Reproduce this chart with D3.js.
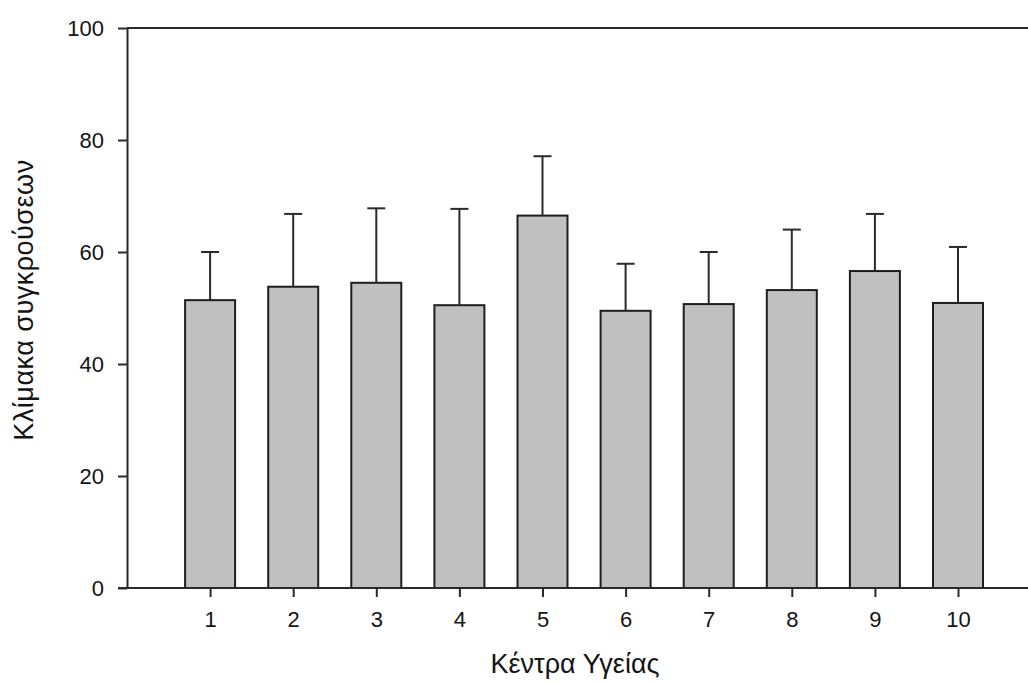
<!DOCTYPE html>
<html>
<head>
<meta charset="utf-8">
<script src="https://cdn.jsdelivr.net/npm/d3@7"></script>
<style>
  body { margin: 0; background: #fff; }
  svg { display: block; font-family: "Liberation Sans", Arial, sans-serif; }
</style>
</head>
<body>
<script>
// Data
const centres = [1, 2, 3, 4, 5, 6, 7, 8, 9, 10];
const means = [51.4, 53.8, 54.5, 50.5, 66.5, 49.5, 50.7, 53.2, 56.6, 50.9];
const errors = [8.6, 13.0, 13.3, 17.2, 10.6, 8.4, 9.3, 10.8, 10.2, 10.0];
const yTicks = [0, 20, 40, 60, 80, 100];

const W = 1028, H = 682;
const X0 = 127, Y0 = 588, Y1 = 28;
const STEP = 83.1;
const BAR_W = 50;
const CAP_W = 18;
const TEXT = "#141414";
const LINE = "#2a2a2a";

const svg = d3.select("body").append("svg")
    .attr("width", W)
    .attr("height", H);

const x = d3.scaleLinear().domain([0, 11]).range([X0, X0 + 11 * STEP]);
const y = d3.scaleLinear().domain([0, 100]).range([Y0, Y1]);

// ----- Bars -----
const bars = svg.append("g");
bars.selectAll("rect")
    .data(centres)
    .enter()
    .append("rect")
        .attr("x", d => x(d) - BAR_W / 2)
        .attr("y", (d, i) => y(means[i]))
        .attr("width", BAR_W)
        .attr("height", (d, i) => y(0) - y(means[i]))
        .attr("fill", "#c0c0c0")
        .attr("stroke", "#1e1e1e")
        .attr("stroke-width", 2);

// ----- Error bars (upper only) -----
const err = svg.append("g")
    .attr("stroke", LINE)
    .attr("stroke-width", 2);
err.selectAll("line.stem")
    .data(centres)
    .enter()
    .append("line")
        .attr("class", "stem")
        .attr("x1", d => x(d))
        .attr("x2", d => x(d))
        .attr("y1", (d, i) => y(means[i]))
        .attr("y2", (d, i) => y(means[i] + errors[i]));
err.selectAll("line.cap")
    .data(centres)
    .enter()
    .append("line")
        .attr("class", "cap")
        .attr("x1", d => x(d) - CAP_W / 2)
        .attr("x2", d => x(d) + CAP_W / 2)
        .attr("y1", (d, i) => y(means[i] + errors[i]))
        .attr("y2", (d, i) => y(means[i] + errors[i]));

// ----- Axes -----
const yAxis = svg.append("g")
    .attr("transform", `translate(${X0},0)`)
    .call(d3.axisLeft(y).tickValues(yTicks).tickSize(9).tickPadding(14).tickSizeOuter(0));

const xAxis = svg.append("g")
    .attr("transform", `translate(0,${Y0})`)
    .call(d3.axisBottom(x).tickValues(centres).tickSize(9).tickPadding(14).tickSizeOuter(0));

[xAxis, yAxis].forEach(a => {
    a.select(".domain").attr("stroke", LINE).attr("stroke-width", 2);
    a.selectAll(".tick line").attr("stroke", LINE).attr("stroke-width", 2);
    a.selectAll(".tick text")
        .attr("fill", TEXT)
        .style("font-size", "22px");
});
xAxis.select(".domain").attr("d", `M${X0 - 9},0H${x(11)}`);

// top frame line
svg.append("line")
    .attr("x1", X0)
    .attr("x2", x(11))
    .attr("y1", y(100))
    .attr("y2", y(100))
    .attr("stroke", LINE)
    .attr("stroke-width", 2);

// ----- Axis titles -----
svg.append("text")
    .attr("x", 575)
    .attr("y", 673)
    .attr("text-anchor", "middle")
    .attr("fill", TEXT)
    .style("font-size", "27px")
    .text("Κέντρα Υγείας");

svg.append("text")
    .attr("transform", "translate(33,300) rotate(-90)")
    .attr("text-anchor", "middle")
    .attr("fill", TEXT)
    .style("font-size", "27px")
    .style("letter-spacing", "0.5px")
    .text("Κλίμακα συγκρούσεων");
</script>
</body>
</html>
